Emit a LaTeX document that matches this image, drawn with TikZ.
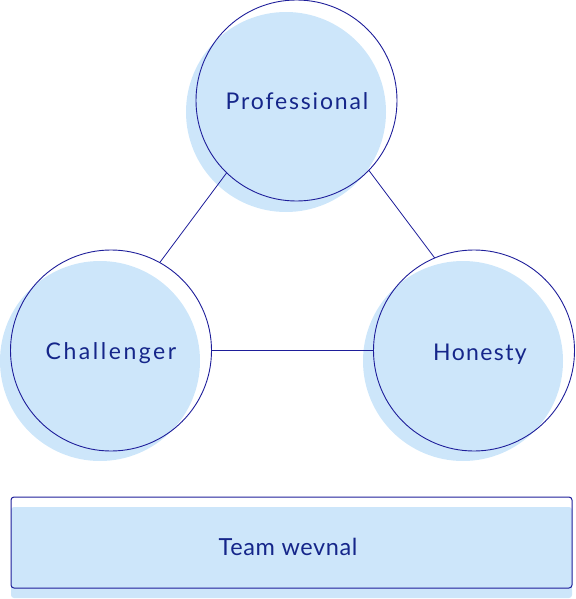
\documentclass[tikz,border=0pt]{standalone}
\usepackage{fontspec}
\setmainfont{Lato}
\definecolor{fillblue}{HTML}{CDE6FA}
\definecolor{navy}{HTML}{1E1E9A}
\definecolor{txtnavy}{HTML}{15268A}
\newcommand{\spaced}[1]{\addfontfeature{LetterSpace=#1}}
\begin{document}
\begin{tikzpicture}[x=1pt,y=-1pt,
  shadowdisc/.style={circle,fill=fillblue,draw=none,minimum size=200pt,inner sep=0pt,outer sep=0pt},
  ring/.style={circle,draw=navy,line width=0.9pt,minimum size=201pt,inner sep=0pt,outer sep=0pt},
  label/.style={text=txtnavy,font=\fontsize{23}{27}\selectfont,anchor=base,inner sep=0pt},
  link/.style={draw=navy,line width=0.8pt},
  shadowbar/.style={fill=fillblue,draw=none,rounded corners=3pt},
  bar/.style={draw=navy,line width=1pt,rounded corners=3pt}]
\useasboundingbox (0,0) rectangle (575,599);
% shadow discs
\node[shadowdisc] (profs) at (286,112) {};
\node[shadowdisc] (chals) at (100,361) {};
\node[shadowdisc] (hons) at (463,361) {};
% rings
\node[ring] (prof) at (296.5,100.5) {};
\node[ring] (chal) at (111,350.5) {};
\node[ring] (hon) at (474,350.5) {};
% connectors
\draw[link] (prof.226.5) -- (chal.61.5);
\draw[link] (prof.316.3) -- (hon.113);
\draw[link] (chal.east) -- (hon.west);
% texts
\node[label] (proft) at (297,110) {\spaced{8}Professional};
\node[label] (chalt) at (111,359) {\spaced{11}Challenger};
\node[label] (hont) at (480,360) {\spaced{6}Honesty};
% team bar
\fill[shadowbar] (11,507) rectangle (572,598);
\draw[bar] (11,497) rectangle (572,588);
\node[label,font=\fontsize{23.5}{27}\selectfont] (team) at (288,555) {\spaced{2.5}Team wevnal};
\end{tikzpicture}
\end{document}
